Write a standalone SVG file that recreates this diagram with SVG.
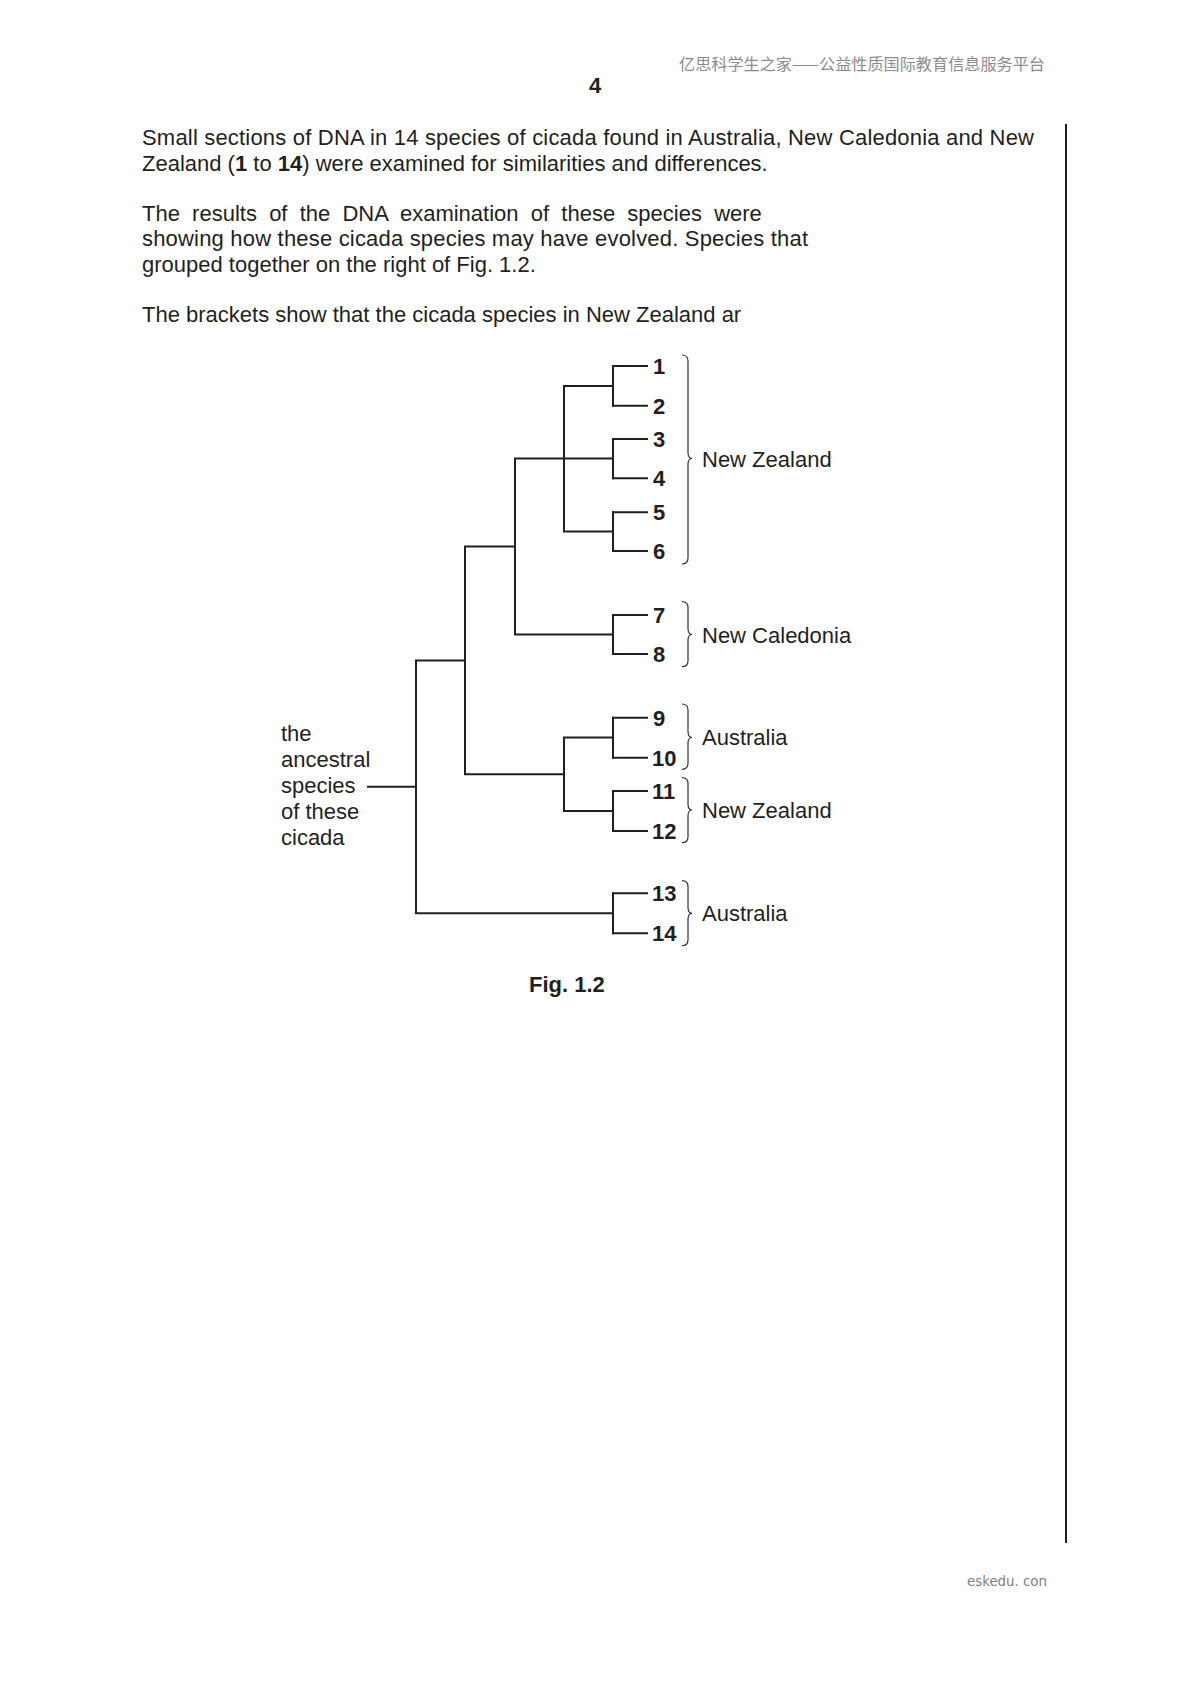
<svg xmlns="http://www.w3.org/2000/svg" width="1190" height="1684" viewBox="0 0 1190 1684">
<style>
.body{font-family:"Liberation Sans",Arial,sans-serif;font-size:22px;fill:#231f20}
.b{font-weight:bold}
.leaf{font-family:"Liberation Sans",Arial,sans-serif;font-size:22px;font-weight:bold;fill:#231f20}
.lbl{font-family:"Liberation Sans",Arial,sans-serif;font-size:22px;fill:#231f20}
.tree{fill:none;stroke:#231f20;stroke-width:2;stroke-linejoin:miter;stroke-linecap:square}
.brace{fill:none;stroke:#333;stroke-width:1.2}
.hdr{font-family:"Noto Sans CJK SC",sans-serif;font-size:16px;fill:#8c8c8c}
</style>
<rect width="1190" height="1684" fill="#fff"/>
<text class="hdr" x="679" y="70" textLength="366" lengthAdjust="spacingAndGlyphs">亿思科学生之家——公益性质国际教育信息服务平台</text>
<text class="body b" x="595" y="93" text-anchor="middle">4</text>
<line x1="1066" y1="124" x2="1066" y2="1543" stroke="#231f20" stroke-width="2"/>
<g id="intro">
<text class="body" x="142" y="145" textLength="892" lengthAdjust="spacing">Small sections of DNA in 14 species of cicada found in Australia, New Caledonia and New</text>
<text class="body" x="142" y="171">Zealand (<tspan class="b">1</tspan> to <tspan class="b">14</tspan>) were examined for similarities and differences.</text>
<text class="body" x="142" y="221" word-spacing="6.1">The results of the DNA examination of these species were</text>
<text class="body" x="142" y="246" textLength="666" lengthAdjust="spacing">showing how these cicada species may have evolved. Species that</text>
<text class="body" x="142" y="272">grouped together on the right of Fig. 1.2.</text>
<text class="body" x="142" y="322">The brackets show that the cicada species in New Zealand ar</text>
</g>
<g id="connectors">
<path class="tree" d="M368,786.7 H416 M416,660.5 V913.3 M416,660.5 H465 M416,913.3 H613 M465,546.5 V774.2 M465,546.5 H515 M465,774.2 H564 M515,458.5 V634.5 M515,458.5 H613 M515,634.5 H613 M564,386 V531.5 M564,386 H613 M564,531.5 H613 M564,737.5 V811 M564,737.5 H613 M564,811 H613"/>
<path class="tree" d="M613,366 V405.7 M613,439 V478.3 M613,512.3 V551 M613,615 V654 M613,717.7 V757.7 M613,791 V831 M613,893.3 V933.3"/>
<path class="tree" d="M613,366 H647 M613,405.7 H647 M613,439 H647 M613,478.3 H647 M613,512.3 H647 M613,551 H647 M613,615 H647 M613,654 H647 M613,717.7 H647 M613,757.7 H647 M613,791 H647 M613,831 H647 M613,893.3 H647 M613,933.3 H647"/>
</g>
<g id="ancestor"><text class="lbl" x="281" y="741">the</text><text class="lbl" x="281" y="767">ancestral</text><text class="lbl" x="281" y="793">species</text><text class="lbl" x="281" y="819">of these</text><text class="lbl" x="281" y="845">cicada</text></g>
<g id="leaf1"><text class="leaf" x="653" y="374">1</text></g>
<g id="leaf2"><text class="leaf" x="653" y="413.7">2</text></g>
<g id="leaf3"><text class="leaf" x="653" y="447">3</text></g>
<g id="leaf4"><text class="leaf" x="653" y="486.3">4</text></g>
<g id="leaf5"><text class="leaf" x="653" y="520.3">5</text></g>
<g id="leaf6"><text class="leaf" x="653" y="559">6</text></g>
<g id="leaf7"><text class="leaf" x="653" y="623">7</text></g>
<g id="leaf8"><text class="leaf" x="653" y="662">8</text></g>
<g id="leaf9"><text class="leaf" x="653" y="725.7">9</text></g>
<g id="leaf10"><text class="leaf" x="652" y="765.7">10</text></g>
<g id="leaf11"><text class="leaf" x="652" y="799">11</text></g>
<g id="leaf12"><text class="leaf" x="652" y="839">12</text></g>
<g id="leaf13"><text class="leaf" x="652" y="901.3">13</text></g>
<g id="leaf14"><text class="leaf" x="652" y="941.3">14</text></g>
<g id="nz1"><path class="brace" d="M682,355 Q688,355 688,361 V452.5 Q688,458.5 692,458.5 Q688,458.5 688,464.5 V558 Q688,564 682,564"/><text class="lbl" x="702" y="466.5">New Zealand</text></g>
<g id="nc"><path class="brace" d="M682,601.7 Q688,601.7 688,607.7 V628.5 Q688,634.5 692,634.5 Q688,634.5 688,640.5 V660.7 Q688,666.7 682,666.7"/><text class="lbl" x="702" y="643">New Caledonia</text></g>
<g id="au1"><path class="brace" d="M682,704 Q688,704 688,710 V731.5 Q688,737.5 692,737.5 Q688,737.5 688,743.5 V763.3 Q688,769.3 682,769.3"/><text class="lbl" x="702" y="745">Australia</text></g>
<g id="nz2"><path class="brace" d="M682,777.7 Q688,777.7 688,783.7 V804 Q688,810 692,810 Q688,810 688,816 V836.7 Q688,842.7 682,842.7"/><text class="lbl" x="702" y="818">New Zealand</text></g>
<g id="au2"><path class="brace" d="M682,880.7 Q688,880.7 688,886.7 V907.3 Q688,913.3 692,913.3 Q688,913.3 688,919.3 V939.7 Q688,945.7 682,945.7"/><text class="lbl" x="702" y="921">Australia</text></g>
<text class="body b" x="529" y="992">Fig. 1.2</text>
<text x="967" y="1586" font-family="DejaVu Sans, sans-serif" font-size="14" fill="#808080" textLength="80" lengthAdjust="spacingAndGlyphs">eskedu. con</text>
</svg>
